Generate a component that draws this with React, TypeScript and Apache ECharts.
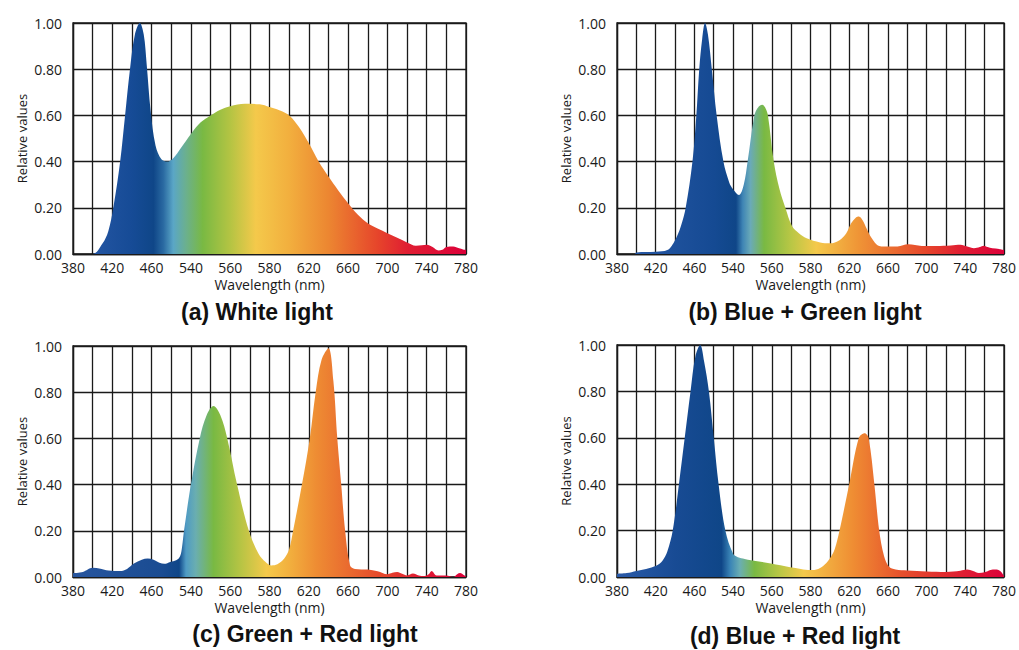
import React, { useEffect, useRef } from "react";
import * as echarts from "echarts";

// ---------- data ----------
const xTickLabels = ["380", "420", "460", "540", "560", "580", "620", "660", "700", "740", "780"];
const yTickLabels = ["0.00", "0.20", "0.40", "0.60", "0.80", "1.00"];
const panelTitles = ["(a) White light", "(b) Blue + Green light", "(c) Green + Red light", "(d) Blue + Red light"];

const whiteLight: number[][] = [
  [380, 0], [400, 0], [410, 0.045], [416, 0.1], [421, 0.2], [428, 0.4], [433, 0.6], [438, 0.8], [443, 0.95],
  [448, 1.0], [452, 0.95], [455, 0.82], [459, 0.62], [464, 0.47], [470, 0.41], [476, 0.4], [482, 0.415],
  [490, 0.46], [500, 0.52], [510, 0.57], [520, 0.6], [530, 0.625], [540, 0.64], [555, 0.65], [570, 0.648],
  [580, 0.636], [590, 0.622], [600, 0.6], [610, 0.55], [620, 0.48], [630, 0.4], [640, 0.335], [650, 0.275],
  [660, 0.22], [670, 0.17], [680, 0.133], [690, 0.11], [700, 0.09], [710, 0.07], [720, 0.05], [729, 0.036],
  [735, 0.038], [740, 0.04], [746, 0.03], [752, 0.015], [756, 0.018], [760, 0.03], [767, 0.033], [773, 0.025],
  [777, 0.02], [780, 0.018],
];

const blueGreenLight: number[][] = [
  [380, 0], [398, 0], [400, 0.007], [420, 0.01], [432, 0.017], [440, 0.06], [446, 0.12], [451, 0.2], [458, 0.4],
  [462, 0.6], [465, 0.8], [468, 0.93], [471, 1.0], [474, 0.95], [478, 0.8], [483, 0.6], [490, 0.4], [496, 0.31],
  [500, 0.28], [506, 0.255], [511, 0.3], [515, 0.4], [522, 0.6], [526, 0.635], [530, 0.646], [533, 0.635],
  [536, 0.6], [542, 0.4], [548, 0.28], [554, 0.2], [561, 0.12], [568, 0.09], [576, 0.068], [590, 0.05],
  [600, 0.046], [610, 0.06], [617, 0.09], [622, 0.133], [627, 0.158], [630, 0.162], [634, 0.145], [638, 0.11],
  [643, 0.07], [651, 0.035], [661, 0.032], [670, 0.033], [681, 0.042], [695, 0.035], [710, 0.035], [725, 0.037],
  [735, 0.04], [742, 0.032], [749, 0.025], [755, 0.03], [759, 0.036], [763, 0.03], [768, 0.025], [775, 0.022],
  [780, 0.017],
];

const greenRedLight: number[][] = [
  [380, 0.017], [390, 0.022], [400, 0.04], [408, 0.036], [416, 0.028], [428, 0.026], [435, 0.035], [442, 0.058],
  [450, 0.075], [456, 0.08], [462, 0.075], [468, 0.062], [473, 0.057], [479, 0.065], [485, 0.072], [489, 0.09],
  [491, 0.13], [493, 0.2], [500, 0.4], [509, 0.6], [516, 0.7], [523, 0.74], [530, 0.7], [537, 0.6], [547, 0.4],
  [559, 0.2], [569, 0.1], [576, 0.065], [582, 0.05], [588, 0.055], [595, 0.08], [600, 0.12], [604, 0.2],
  [613, 0.4], [621, 0.6], [627, 0.8], [633, 0.94], [640, 0.99], [645, 0.85], [649, 0.6], [653, 0.4], [657, 0.2],
  [662, 0.05], [667, 0.035], [680, 0.032], [690, 0.025], [700, 0.012], [705, 0.018], [710, 0.022], [715, 0.014],
  [720, 0.007], [726, 0.015], [732, 0.006], [737, 0.004], [742, 0.012], [745, 0.026], [750, 0.007], [760, 0.006],
  [767, 0], [771, 0.012], [774, 0.017], [778, 0.008], [780, 0.003],
];

const blueRedLight: number[][] = [
  [380, 0.014], [390, 0.017], [400, 0.026], [410, 0.035], [421, 0.05], [427, 0.07], [432, 0.11], [437.6, 0.2],
  [444, 0.4], [450, 0.6], [456, 0.8], [461, 0.95], [466, 1.0], [470, 0.93], [475, 0.8], [480, 0.6], [485, 0.4],
  [492, 0.2], [500, 0.1], [505, 0.085], [512, 0.078], [525, 0.068], [539, 0.058], [559, 0.042], [570, 0.035],
  [580, 0.03], [588, 0.035], [595, 0.055], [600, 0.08], [605, 0.12], [610, 0.2], [620, 0.4], [630, 0.6],
  [636, 0.62], [640, 0.6], [646, 0.4], [651, 0.2], [656, 0.09], [661, 0.045], [668, 0.032], [680, 0.028],
  [700, 0.024], [720, 0.022], [735, 0.027], [742, 0.032], [748, 0.026], [754, 0.017], [760, 0.02], [766, 0.03],
  [771, 0.032], [776, 0.026], [780, 0.005],
];

const seriesData = [whiteLight, blueGreenLight, greenRedLight, blueRedLight];

// ---------- styles ----------
const gradA: [number, string][] = [
  [380, "#2a5aa8"], [440, "#164b96"], [462, "#0f4688"], [472, "#2a6aa2"], [482, "#5aa6c6"], [495, "#6bb08e"],
  [512, "#79b943"], [540, "#b4c443"], [566, "#f4c94b"], [600, "#f2af3e"], [640, "#ec8631"], [690, "#e6452b"],
  [720, "#e01e32"], [780, "#dc0039"],
];
const gradB: [number, string][] = [
  [380, "#2a5aa8"], [480, "#154a93"], [503, "#0f4688"], [510, "#3f85b5"], [518, "#6aaab8"], [532, "#79b943"],
  [560, "#b9c745"], [586, "#f4c94b"], [630, "#ef9436"], [700, "#e6452b"], [735, "#e01e32"], [780, "#dc0039"],
];
const gradC: [number, string][] = [
  [380, "#27559f"], [470, "#1a4c92"], [488, "#0f4688"], [495, "#4f9bc4"], [505, "#6aaeb0"], [523, "#79b943"],
  [550, "#b5c444"], [577, "#f4c94b"], [600, "#f2b03e"], [628, "#ee8c33"], [670, "#e8602e"], [696, "#e6452b"],
  [730, "#e01e32"], [780, "#dc0039"],
];
const gradD: [number, string][] = [
  [380, "#2a5aa8"], [440, "#184b94"], [488, "#0f4688"], [497, "#3a84b6"], [507, "#6aaeb3"], [522, "#79b943"],
  [548, "#b9c745"], [573, "#f4c94b"], [624, "#ef8d33"], [674, "#e6502c"], [720, "#e12a30"], [780, "#dc0039"],
];
const gradients = [gradA, gradB, gradC, gradD];

const grids = [
  { left: 73, top: 23, width: 393, height: 231 },
  { left: 617, top: 23, width: 394, height: 231 },
  { left: 73, top: 346, width: 393, height: 231 },
  { left: 617, top: 345, width: 394, height: 232 },
];
const titlePos = [
  [257, 312],
  [805, 312],
  [305, 634],
  [795, 636],
];

const INK = "#1a1a1a";
const LABEL_FONT = '"Open Sans", "Noto Sans", sans-serif';

export default function App() {
  const ref = useRef<HTMLDivElement>(null);

  useEffect(() => {
    if (!ref.current) return;
    const chart = echarts.init(ref.current, null, { renderer: "svg" });

    const xAxis = grids.map((_, i) => ({
      gridIndex: i,
      type: "value",
      min: 380,
      max: 780,
      interval: 20,
      axisLine: { show: true, lineStyle: { color: INK, width: 1.3 } },
      axisTick: { show: false },
      splitLine: { show: true, lineStyle: { color: INK, width: 1.3 } },
      axisLabel: {
        formatter: (v: number) => {
          const k = (v - 380) / 40;
          return Number.isInteger(k) ? xTickLabels[k] : "";
        },
        fontSize: 14,
        color: INK,
        margin: 6,
        fontFamily: LABEL_FONT,
      },
      name: "Wavelength (nm)",
      nameLocation: "middle",
      nameGap: 23,
      nameTextStyle: { fontSize: 14, color: INK, fontFamily: LABEL_FONT },
    }));

    const yAxis = grids.map((_, i) => ({
      gridIndex: i,
      type: "value",
      min: 0,
      max: 1,
      interval: 0.2,
      axisLine: { show: true, lineStyle: { color: INK, width: 1.3 } },
      axisTick: { show: false },
      splitLine: { show: true, lineStyle: { color: INK, width: 1.3 } },
      axisLabel: {
        formatter: (v: number) => yTickLabels[Math.round(v / 0.2)],
        fontSize: 14,
        color: INK,
        margin: 11,
        fontFamily: LABEL_FONT,
      },
      name: "Relative values",
      nameLocation: "middle",
      nameGap: 45,
      nameTextStyle: { fontSize: 13, color: INK, fontFamily: LABEL_FONT },
    }));

    const series = seriesData.map((d, i) => ({
      type: "line",
      xAxisIndex: i,
      yAxisIndex: i,
      data: d,
      smooth: 0.35,
      symbol: "none",
      showSymbol: false,
      lineStyle: { width: 0, opacity: 0 },
      areaStyle: {
        opacity: 1,
        color: new echarts.graphic.LinearGradient(
          0, 0, 1, 0,
          gradients[i].map(([nm, c]) => ({ offset: (nm - 380) / 400, color: c }))
        ),
      },
      z: 3,
    }));

    const graphic = panelTitles.map((t, i) => ({
      type: "text",
      x: titlePos[i][0],
      y: titlePos[i][1],
      style: {
        text: t,
        fontSize: 23,
        fontWeight: "bold",
        fontFamily: '"Liberation Sans", Arial, sans-serif',
        fill: "#111",
        align: "center",
        verticalAlign: "middle",
      },
    }));

    chart.setOption({
      animation: false,
      backgroundColor: "#ffffff",
      grid: grids.map((g) => ({ ...g, show: true, borderColor: INK, borderWidth: 1.3, backgroundColor: "transparent" })),
      xAxis,
      yAxis,
      series,
      graphic,
    });

    return () => chart.dispose();
  }, []);

  return (
    <div
      ref={ref}
      style={{ position: "absolute", left: 0, top: 0, width: 1019, height: 650, background: "#fff" }}
    />
  );
}
